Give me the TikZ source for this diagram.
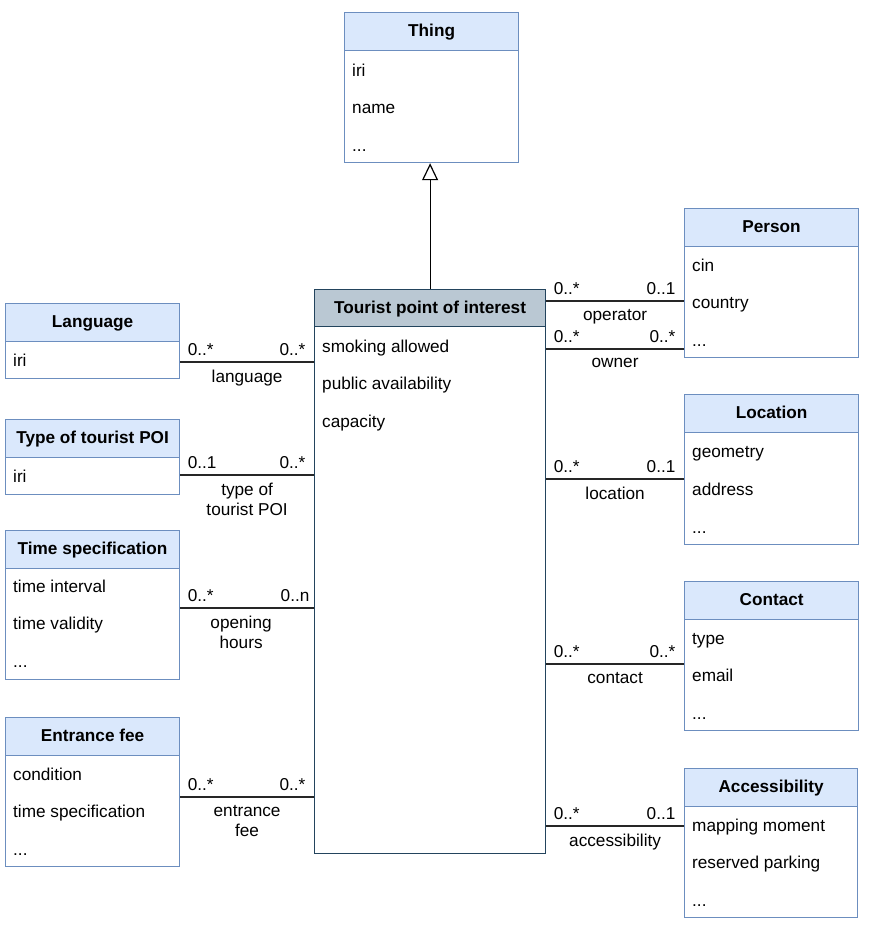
\documentclass[tikz,border=0pt]{standalone}
\usepackage{fontspec}
\setmainfont{Liberation Sans}
\usetikzlibrary{arrows.meta}
\definecolor{hdrfill}{HTML}{DAE8FC}
\definecolor{hdrdraw}{HTML}{6C8EBF}
\definecolor{poifill}{HTML}{BAC8D3}
\definecolor{poidraw}{HTML}{23445D}
\begin{document}
\begin{tikzpicture}[x=1pt,y=-1pt,
  font=\fontsize{17.2}{20}\selectfont,
  hdr/.style={draw=hdrdraw, fill=hdrfill, line width=1.2pt, anchor=north west,
    font=\fontsize{17.2}{20}\selectfont\bfseries, inner sep=0pt, minimum height=38pt,
    text height=12.5pt, text depth=2pt},
  body/.style={draw=hdrdraw, fill=white, line width=1.2pt, anchor=north west, inner sep=0pt},
  item/.style={anchor=base west, inner sep=0pt, yshift=-6.5pt},
  assoc/.style={line width=1.2pt, draw=black!85},
  multL/.style={pos=0, anchor=south west, inner xsep=7pt, inner ysep=6pt},
  multR/.style={pos=1, anchor=south east, inner xsep=8pt, inner ysep=6pt},
  role/.style={midway, anchor=north, inner xsep=3pt, inner ysep=7.5pt, align=center}
]
\useasboundingbox (0,0) rectangle (870,938);

% Thing
\node[body, minimum width=174pt, minimum height=112pt] (thing) at (344,50) {};
\node[hdr, minimum width=174pt] (thingH) at (344,12) {Thing};
\node[item] (thing1) at (352,70) {iri};
\node[item] (thing2) at (352,107) {name};
\node[item] (thing3) at (352,145) {...};

% Person
\node[body, minimum width=174pt, minimum height=111pt] (person) at (684,246) {};
\node[hdr, minimum width=174pt] (personH) at (684,208) {Person};
\node[item] (person1) at (692,265) {cin};
\node[item] (person2) at (692,302) {country};
\node[item] (person3) at (692,340) {...};

% Language
\node[body, minimum width=174pt, minimum height=37pt] (lang) at (5,341) {};
\node[hdr, minimum width=174pt] (langH) at (5,303) {Language};
\node[item] (lang1) at (13,360) {iri};

% Tourist POI
\node[body, draw=poidraw, minimum width=231pt, minimum height=527pt] (poi) at (314,326) {};
\node[hdr, draw=poidraw, fill=poifill, minimum width=231pt, minimum height=37pt] (poiH) at (314,289) {Tourist point of interest};
\node[item] (poi1) at (322,346) {smoking allowed};
\node[item] (poi2) at (322,383) {public availability};
\node[item] (poi3) at (322,421) {capacity};

% Type of tourist POI
\node[body, minimum width=174pt, minimum height=37pt] (type) at (5,457) {};
\node[hdr, minimum width=174pt] (typeH) at (5,419) {Type of tourist POI};
\node[item] (type1) at (13,476) {iri};

% Location
\node[body, minimum width=174pt, minimum height=112pt] (loc) at (684,432) {};
\node[hdr, minimum width=174pt] (locH) at (684,394) {Location};
\node[item] (loc1) at (692,451) {geometry};
\node[item] (loc2) at (692,489) {address};
\node[item] (loc3) at (692,527) {...};

% Time specification
\node[body, minimum width=174pt, minimum height=111pt] (time) at (5,568) {};
\node[hdr, minimum width=174pt] (timeH) at (5,530) {Time specification};
\node[item] (time1) at (13,586) {time interval};
\node[item] (time2) at (13,623) {time validity};
\node[item] (time3) at (13,661) {...};

% Contact
\node[body, minimum width=174pt, minimum height=111pt] (contact) at (684,619) {};
\node[hdr, minimum width=174pt] (contactH) at (684,581) {Contact};
\node[item] (contact1) at (692,638) {type};
\node[item] (contact2) at (692,675) {email};
\node[item] (contact3) at (692,713) {...};

% Entrance fee
\node[body, minimum width=174pt, minimum height=111pt] (fee) at (5,755) {};
\node[hdr, minimum width=174pt] (feeH) at (5,717) {Entrance fee};
\node[item] (fee1) at (13,774) {condition};
\node[item] (fee2) at (13,811) {time specification};
\node[item] (fee3) at (13,849) {...};

% Accessibility
\node[body, minimum width=173pt, minimum height=111pt] (acc) at (684,806) {};
\node[hdr, minimum width=173pt] (accH) at (684,768) {Accessibility};
\node[item] (acc1) at (692,825) {mapping moment};
\node[item] (acc2) at (692,862) {reserved parking};
\node[item] (acc3) at (692,900) {...};

% Generalization
\draw[line width=1.2pt, -{Triangle[open, length=17pt, width=16pt, line width=1.2pt]}]
  (poiH.north) -- (poiH.north |- thing.south);

% Associations right
\draw[assoc] (poi.east |- 0,301) -- (person.west |- 0,301)
  node[multL]{0..*} node[multR]{0..1} node[role]{operator};
\draw[assoc] (poi.east |- 0,349) -- (person.west |- 0,349)
  node[multL]{0..*} node[multR]{0..*} node[role, inner ysep=8.5pt]{owner};
\draw[assoc] (poi.east |- 0,479) -- (loc.west |- 0,479)
  node[multL]{0..*} node[multR]{0..1} node[role]{location};
\draw[assoc] (poi.east |- 0,664) -- (contact.west |- 0,664)
  node[multL]{0..*} node[multR]{0..*} node[role]{contact};
\draw[assoc] (poi.east |- 0,826) -- (acc.west |- 0,826)
  node[multL]{0..*} node[multR]{0..1} node[role]{accessibility};

% Associations left
\draw[assoc] (lang.east |- 0,362) -- (poi.west |- 0,362)
  node[multL]{0..*} node[multR]{0..*} node[role]{language};
\draw[assoc] (type.east |- 0,475) -- (poi.west |- 0,475)
  node[multL]{0..1} node[multR]{0..*} node[role]{type of\\tourist POI};
\draw[assoc] (time.east |- 0,608) -- (poi.west |- 0,608)
  node[multL]{0..*} node[multR, inner xsep=4pt]{0..n} node[role, xshift=-6pt]{opening\\hours};
\draw[assoc] (fee.east |- 0,797) -- (poi.west |- 0,797)
  node[multL]{0..*} node[multR]{0..*} node[role]{entrance\\fee};
\end{tikzpicture}
\end{document}
